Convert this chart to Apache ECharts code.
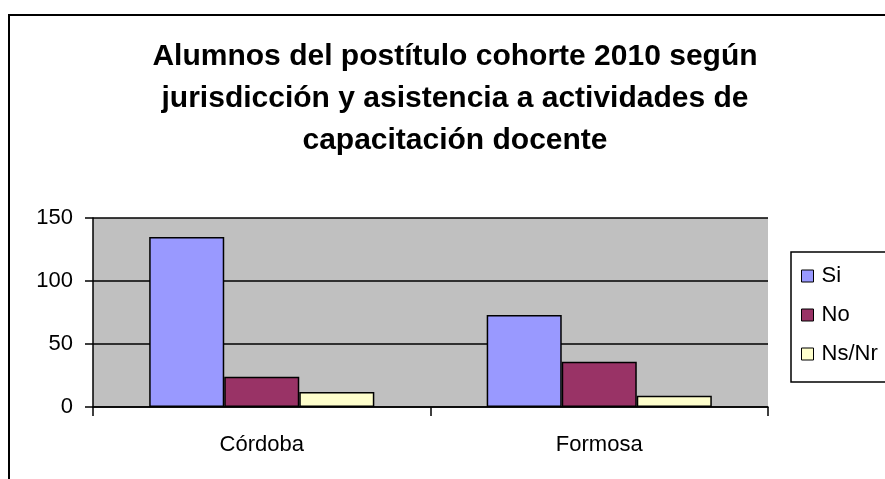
<!DOCTYPE html>
<html>
<head>
<meta charset="utf-8">
<script src="https://cdn.jsdelivr.net/npm/echarts@6/dist/echarts.min.js"></script>
<style>
    html, body { margin: 0; padding: 0; background: #fff; }
    #chart { width: 885px; height: 479px; }
</style>
</head>
<body>
<div id="chart"></div>
<script>
    // datos
    var jurisdicciones = ['Córdoba', 'Formosa'];
    var si = [135, 73];
    var no = [24, 36];
    var nsnr = [12, 9];
    var ticksY = [0, 50, 100, 150];

    var myChart = echarts.init(document.getElementById('chart'));

    var fuente = '"Liberation Sans", Arial, sans-serif';

    function serie(nombre, datos, color) {
        return {
            name: nombre,
            type: 'bar',
            data: datos,
            barGap: '0%',
            barCategoryGap: '33.3%',
            itemStyle: { color: color, borderColor: '#000', borderWidth: 1.5 }
        };
    }

    var option = {
        animation: false,
        backgroundColor: '#fff',
        textStyle: { fontFamily: fuente },
        title: {
            text: 'Alumnos del postítulo cohorte 2010 según\njurisdicción y asistencia a actividades de\ncapacitación docente',
            left: 450,
            top: 31,
            textAlign: 'center',
            textStyle: { fontFamily: fuente, fontSize: 30, fontWeight: 'bold', color: '#000', lineHeight: 42 }
        },
        graphic: [{
            type: 'rect',
            shape: { x: 9, y: 15, width: 900, height: 500 },
            style: { fill: null, stroke: '#000', lineWidth: 2 },
            silent: true
        }],
        legend: {
            orient: 'vertical',
            left: 791,
            top: 252,
            padding: [13, 30, 17, 10],
            itemGap: 17,
            itemWidth: 12,
            itemHeight: 12,
            icon: 'rect',
            borderColor: '#000',
            borderWidth: 1.5,
            backgroundColor: '#fff',
            textStyle: { fontFamily: fuente, fontSize: 22, color: '#000', lineHeight: 22, padding: [0, 0, 0, 3] },
            itemStyle: { borderColor: '#000', borderWidth: 1 },
            data: ['Si', 'No', 'Ns/Nr']
        },
        grid: { left: 93, right: 117, top: 218, bottom: 72, containLabel: false, show: true, backgroundColor: '#c0c0c0', borderWidth: 0 },
        xAxis: {
            type: 'category',
            data: jurisdicciones,
            axisLine: { lineStyle: { color: '#000', width: 1.5 } },
            axisTick: { show: true, length: 9, alignWithLabel: false, lineStyle: { color: '#000', width: 1.5 } },
            axisLabel: { fontSize: 22, color: '#000', margin: 27, fontFamily: fuente }
        },
        yAxis: {
            type: 'value',
            min: ticksY[0],
            max: ticksY[ticksY.length - 1],
            interval: 50,
            axisLine: { show: true, lineStyle: { color: '#000', width: 1.5 } },
            axisTick: { show: true, length: 8, lineStyle: { color: '#000', width: 1.5 } },
            axisLabel: { fontSize: 22, color: '#000', margin: 20, fontFamily: fuente },
            splitLine: { show: true, lineStyle: { color: '#000', width: 1.5 } }
        },
        series: [
            serie('Si', si, '#9999ff'),
            serie('No', no, '#993366'),
            serie('Ns/Nr', nsnr, '#ffffcc')
        ]
    };

    myChart.setOption(option);
</script>
</body>
</html>
